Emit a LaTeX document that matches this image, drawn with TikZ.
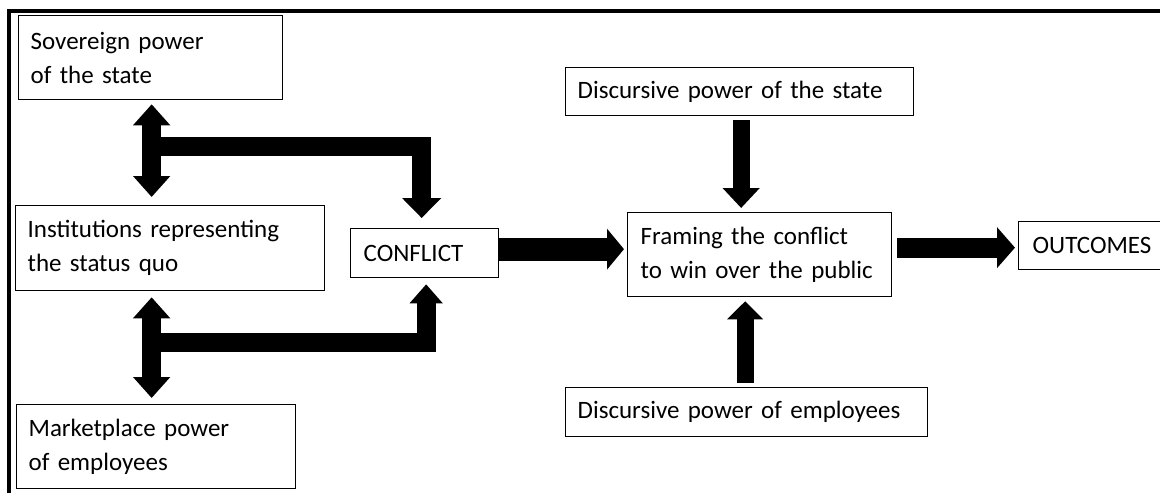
\documentclass[tikz,border=0pt]{standalone}
\usepackage{fontspec}
\setmainfont{Carlito}
\usetikzlibrary{arrows.meta,calc}
\begin{document}
\begin{tikzpicture}[x=1pt,y=-1pt,
  box/.style={draw,line width=1.3pt,inner xsep=12pt,inner ysep=0pt,anchor=north west,
    align=left,font=\fontsize{25}{34}\selectfont},
  fat/.style={line width=19pt,-{Triangle[width=38pt,length=20pt]}},
  dbl/.style={line width=19pt,{Triangle[width=36pt,length=21pt]}-{Triangle[width=36pt,length=21pt]}}
]
\useasboundingbox (0,0) rectangle (1160,493);
\draw[line width=3.5pt] (9,493) -- (9,11) -- (1160,11);

\node[box,text width=240pt,minimum height=84pt] (sov) at (18,15) {Sovereign power\\of the state};
\node[box,text width=285pt,minimum height=85pt] (inst) at (15,205) {Institutions representing\\the status quo};
\node[box,text width=255pt,minimum height=84pt] (mkt) at (16,404) {Marketplace power\\of employees};
\node[box,text width=122pt,minimum height=49pt,inner xsep=13pt] (conf) at (350,228) {CONFLICT};
\node[box,text width=238pt,minimum height=84pt,inner xsep=13pt] (frame) at (627,212) {Framing the conflict\\to win over the public};
\node[box,text width=324pt,minimum height=48pt] (dstate) at (565,67) {Discursive power of the state};
\node[box,text width=338pt,minimum height=49pt] (demp) at (565,387) {Discursive power of employees};
\node[box,text width=122pt,minimum height=48pt,inner xsep=14pt] (out) at (1018,221) {OUTCOMES};

% upper group
\draw[dbl] ($(sov.south)+(1,4)$) -- ($(sov.south |- inst.north)+(1,-8)$);
\draw[fat] ($(sov.south)+(1,46)$) -| ($(conf.north)+(-3,-10)$);
% lower group
\draw[dbl] ($(sov.south |- inst.south)+(1,6)$) -- ($(sov.south |- mkt.north)+(1,-6)$);
\draw[fat,-{Triangle[width=32pt,length=19pt]}] ($(sov.south |- inst.south)+(1,51)$) -| ($(conf.south)+(1.5,6)$);
% main flow
\draw[fat,line width=23pt,-{Triangle[width=40pt,length=17pt]}] ($(conf.east)+(0,-4)$) -- ($(conf.east -| frame.west)+(-3,-4)$);
\draw[fat,line width=20pt,-{Triangle[width=40pt,length=18pt]}] ($(frame.east)+(5,-7)$) -- ($(frame.east -| out.west)+(-3,-7)$);
% discursive inputs
\draw[fat,line width=17pt,-{Triangle[width=36pt,length=20pt]}] ($(dstate.south)+(1.5,4)$) -- ($(dstate.south |- frame.north)+(1.5,-4)$);
\draw[fat,line width=17pt,-{Triangle[width=35pt,length=18pt]}] ($(demp.north)+(-1.5,-4)$) -- ($(demp.north |- frame.south)+(-1.5,4)$);
\end{tikzpicture}
\end{document}
